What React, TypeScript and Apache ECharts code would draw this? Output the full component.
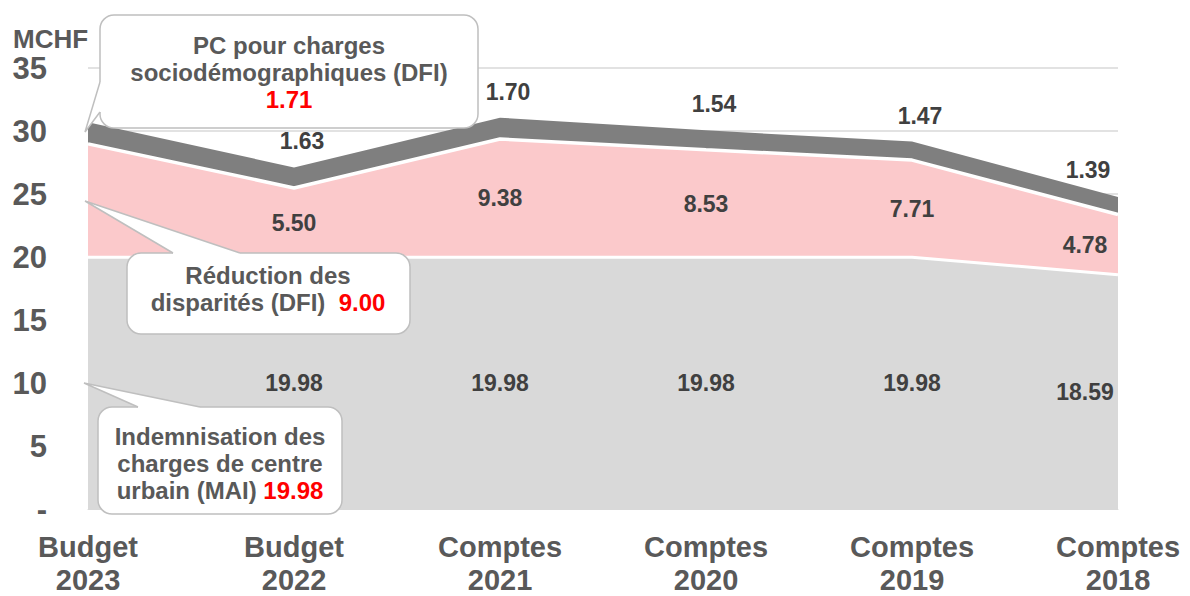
import React, { useEffect, useRef } from "react";
import * as echarts from "echarts";

const categories = ["Budget\n2023", "Budget\n2022", "Comptes\n2021", "Comptes\n2020", "Comptes\n2019", "Comptes\n2018"];
const maiValues = [19.98, 19.98, 19.98, 19.98, 19.98, 18.59];
const disparitesValues = [9.0, 5.5, 9.38, 8.53, 7.71, 4.78];
const socioValues = [1.71, 1.63, 1.7, 1.54, 1.47, 1.39];
const yTicks = [0, 5, 10, 15, 20, 25, 30, 35];

const FONT = "'Liberation Sans', Arial, sans-serif";
const AXIS_COLOR = "#595959";
const LABEL_COLOR = "#404040";
const GRAY = "#d9d9d9";
const PINK = "#fbc9cb";
const DARK = "#7f7f7f";
const BORDER = "#bfbfbf";

function callout(
  box: { x: number; y: number; w: number; h: number },
  tip: number[],
  base: number[][],
  inward: number[],
  text: string,
  cx: number,
  cy: number
) {
  const r = 14;
  const [b1, b2] = base;
  return [
    {
      type: "rect",
      z: 100,
      shape: { x: box.x, y: box.y, width: box.w, height: box.h, r },
      style: { fill: "#ffffff", stroke: BORDER, lineWidth: 1.5 },
    },
    {
      type: "polygon",
      z: 101,
      shape: {
        points: [b1, tip, b2, [b2[0] + inward[0], b2[1] + inward[1]], [b1[0] + inward[0], b1[1] + inward[1]]],
      },
      style: { fill: "#ffffff", stroke: null, lineWidth: 0 },
    },
    {
      type: "polyline",
      z: 102,
      shape: { points: [b1, tip, b2] },
      style: { stroke: BORDER, lineWidth: 1.5, fill: null },
    },
    {
      type: "text",
      z: 103,
      x: cx,
      y: cy,
      style: {
        text,
        fill: AXIS_COLOR,
        fontFamily: FONT,
        fontWeight: "bold",
        fontSize: 24,
        align: "center",
        verticalAlign: "middle",
        lineHeight: 27,
        rich: {
          r: { fill: "#ff0000", fontWeight: "bold", fontSize: 24, fontFamily: FONT, lineHeight: 27 },
        },
      },
    },
  ];
}

export default function App() {
  const ref = useRef<HTMLDivElement>(null);

  useEffect(() => {
    if (!ref.current) return;
    const chart = echarts.init(ref.current, undefined, { renderer: "svg" });

    const maiMid = maiValues.map((v, i) => (i === 0 ? "-" : v / 2));
    const dispMid = disparitesValues.map((v, i) => (i === 0 ? "-" : maiValues[i] + v / 2));
    const socioTop = socioValues.map((v, i) => (i === 0 ? "-" : maiValues[i] + disparitesValues[i] + v));

    const last = categories.length - 1;
    const mkData = (arr: any[], offset: number[], lastOffset: number[]) =>
      arr.map((v, i) => ({ value: v, label: { offset: i === last ? lastOffset : offset } }));

    const labelSeries = (data: any[], values: number[]) => ({
      type: "scatter",
      data,
      symbolSize: 1,
      itemStyle: { color: "rgba(0,0,0,0)", opacity: 1 },
      silent: true,
      z: 10,
      label: {
        show: true,
        position: "inside",
        color: LABEL_COLOR,
        opacity: 1,
        fontFamily: FONT,
        fontWeight: "bold",
        fontSize: 23,
        formatter: (p: any) => values[p.dataIndex].toFixed(2),
      },
    });

    const axisRich = { fontFamily: FONT, fontWeight: "bold", fontSize: 29, color: AXIS_COLOR };

    const option: any = {
      animation: false,
      grid: { left: 88, right: 72, top: 68, bottom: 87, containLabel: false, outerBoundsMode: "none" },
      xAxis: {
        type: "category",
        data: categories,
        boundaryGap: false,
        axisLine: { show: true, lineStyle: { color: GRAY, width: 1 } },
        axisTick: { show: false },
        axisLabel: {
          interval: 0,
          color: AXIS_COLOR,
          fontFamily: FONT,
          fontWeight: "bold",
          fontSize: 29,
          margin: 18,
          formatter: (v: string) => {
            const [a, b] = v.split("\n");
            return `{a|${a}}\n{b|${b}}`;
          },
          rich: {
            a: { ...axisRich, lineHeight: 40 },
            b: { ...axisRich, lineHeight: 26 },
          },
        },
        splitLine: { show: false },
      },
      yAxis: {
        type: "value",
        min: yTicks[0],
        max: yTicks[yTicks.length - 1],
        interval: 5,
        axisLine: { show: false },
        axisTick: { show: false },
        axisLabel: {
          color: AXIS_COLOR,
          fontFamily: FONT,
          fontWeight: "bold",
          fontSize: 31,
          margin: 41,
          formatter: (v: number) => (v === 0 ? "-" : String(v)),
        },
        splitLine: { show: true, lineStyle: { color: GRAY, width: 1.5 } },
      },
      series: [
        {
          name: "Indemnisation des charges de centre urbain (MAI)",
          type: "line",
          stack: "total",
          data: maiValues,
          symbol: "none",
          z: 4,
          lineStyle: { color: "#ffffff", width: 3 },
          areaStyle: { color: GRAY, opacity: 1 },
          itemStyle: { color: GRAY },
        },
        {
          name: "Réduction des disparités (DFI)",
          type: "line",
          stack: "total",
          data: disparitesValues,
          symbol: "none",
          z: 3,
          lineStyle: { color: "#ffffff", width: 3.5 },
          areaStyle: { color: PINK, opacity: 1 },
          itemStyle: { color: PINK },
        },
        {
          name: "PC pour charges sociodémographiques (DFI)",
          type: "line",
          stack: "total",
          data: socioValues,
          symbol: "none",
          z: 2,
          lineStyle: { color: DARK, width: 0 },
          areaStyle: { color: DARK, opacity: 1 },
          itemStyle: { color: DARK },
        },
        labelSeries(mkData(maiMid, [0, 0], [-33, 0]), maiValues),
        labelSeries(mkData(dispMid, [0, 0], [-33, 0]), disparitesValues),
        labelSeries(mkData(socioTop, [8, -26], [-30, -27]), socioValues),
      ],
      graphic: [
        {
          type: "text",
          left: 13,
          top: 26,
          z: 50,
          style: {
            text: "MCHF",
            fill: AXIS_COLOR,
            fontFamily: FONT,
            fontWeight: "bold",
            fontSize: 26,
          },
        },
        ...callout(
          { x: 100, y: 15, w: 378, h: 113 },
          [85, 132],
          [[100, 82], [100, 112]],
          [4, 0],
          `PC pour charges\nsociodémographiques (DFI)\n{r|${socioValues[0].toFixed(2)}}`,
          289,
          72
        ),
        ...callout(
          { x: 127, y: 253, w: 283, h: 81 },
          [85, 201],
          [[173, 253], [240, 253]],
          [0, 4],
          `Réduction des\ndisparités (DFI)  {r|${disparitesValues[0].toFixed(2)}}`,
          268,
          289
        ),
        ...callout(
          { x: 98, y: 407, w: 244, h: 107 },
          [84, 383],
          [[138, 407], [200, 407]],
          [0, 4],
          `Indemnisation des\ncharges de centre\nurbain (MAI) {r|${maiValues[0].toFixed(2)}}`,
          220,
          463
        ),
      ],
    };

    chart.setOption(option);
    return () => chart.dispose();
  }, []);

  return (
    <div
      ref={ref}
      style={{ position: "absolute", left: 0, top: 0, width: 1190, height: 596, background: "#ffffff" }}
    />
  );
}
